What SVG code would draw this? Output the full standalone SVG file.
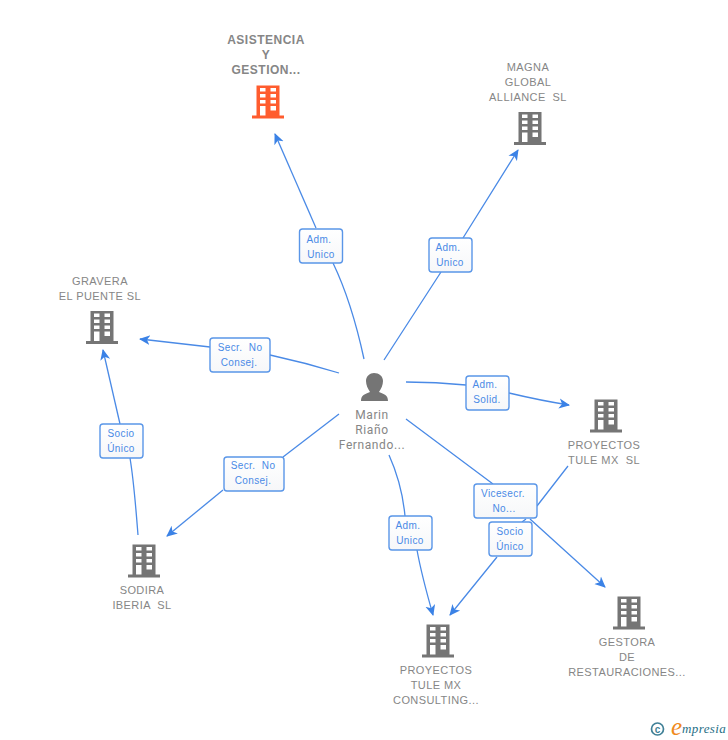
<svg xmlns="http://www.w3.org/2000/svg" width="728" height="740" viewBox="0 0 728 740" xml:space="preserve">
<defs>
<marker id="arrow" markerUnits="userSpaceOnUse" markerWidth="12" markerHeight="12" refX="10" refY="5" viewBox="0 0 12 10" orient="auto"><path d="M0 0L11 5L0 10L3 5Z" fill="#3b82e6"/></marker>
<linearGradient id="lg" x1="0" y1="0" x2="0" y2="1"><stop offset="0" stop-color="#ffffff"/><stop offset="1" stop-color="#f6f7f9"/></linearGradient>
<g id="bld">
<path d="M-11.500 -16.500H11.500V13.500H16V16.500H-16V13.500H-11.500ZM-8 -14V-10.500H-2.500V-14ZM2.500 -14V-10.500H8V-14ZM-8 -8V-4.500H-2.500V-8ZM2.500 -8V-4.500H8V-8ZM-8 -2V1.500H-2.500V-2ZM2.500 -2V1.500H8V-2ZM-8 4V13.500H-2.500V4ZM2.500 4V8.500H8V4Z" fill-rule="evenodd"/>
</g>
</defs>
<style>
.c{fill:none;stroke:#4a8ae6;stroke-width:1.3}
.a{marker-end:url(#arrow)}
text{white-space:pre}
.n{font:11px "Liberation Sans",Arial,sans-serif;fill:#868686;text-anchor:middle;letter-spacing:.42px}
.t{font-size:12px;font-weight:bold;letter-spacing:.5px}
.p{font:12px Roboto,"Liberation Sans",sans-serif;fill:#868686;text-anchor:middle;letter-spacing:.6px}
.l{font:10px "Liberation Sans",Arial,sans-serif;fill:#4a8ae6;text-anchor:middle;letter-spacing:.4px}
.b{fill:url(#lg);stroke:#5a96e8;stroke-width:1.4}
.g{fill:#757575}
</style>
<g id="connectors">
<path class="c" d="M364 359C356 322 346 290 333 263"/>
<path class="c a" d="M316 228L275 134"/>
<path class="c a" d="M384 360L441 272M463 238L518 150"/>
<path class="c" d="M339 373C316 366 293 360 270 355"/>
<path class="c a" d="M210 347L140 339"/>
<path class="c" d="M339 414L283 457"/>
<path class="c a" d="M223 490L167 536"/>
<path class="c" d="M138 535C136 510 134 482 130 458"/>
<path class="c a" d="M120 424L103 350"/>
<path class="c" d="M406 382C426 382 446 383 466 385"/>
<path class="c a" d="M509 393C530 398 550 402 569 405"/>
<path class="c" d="M389 455C398 475 403 495 405 516"/>
<path class="c a" d="M417 550C421 572 427 594 433 615"/>
<path class="c a" d="M406 419L493 484M530 519L605 587"/>
<path class="c a" d="M568 466L537 506M526 519L522 522M497 557L450 615"/>
</g>
<g id="labels">
<g id="l1"><rect class="b" x="299.500" y="229" width="43" height="34" rx="3"/><text class="l" x="319" y="243">Adm.</text><text class="l" x="321" y="258">Unico</text></g>
<g id="l2"><rect class="b" x="429" y="238" width="43" height="34" rx="3"/><text class="l" x="448" y="251">Adm.</text><text class="l" x="450" y="266">Unico</text></g>
<g id="l3"><rect class="b" x="210" y="338" width="60" height="34" rx="3"/><text class="l" x="240" y="351">Secr.  No</text><text class="l" x="239" y="366">Consej.</text></g>
<g id="l4"><rect class="b" x="224" y="457" width="60" height="34" rx="3"/><text class="l" x="253" y="469">Secr.  No</text><text class="l" x="253" y="484">Consej.</text></g>
<g id="l5"><rect class="b" x="100" y="424" width="43" height="34" rx="3"/><text class="l" x="121" y="437">Socio</text><text class="l" x="121" y="452">Único</text></g>
<g id="l6"><rect class="b" x="466" y="376" width="43" height="34" rx="3"/><text class="l" x="485" y="388">Adm.</text><text class="l" x="487" y="403">Solid.</text></g>
<g id="l7"><rect class="b" x="389" y="516" width="43" height="34" rx="3"/><text class="l" x="408" y="529">Adm.</text><text class="l" x="410" y="544">Unico</text></g>
<g id="l8"><rect class="b" x="474" y="484" width="63" height="34" rx="3"/><text class="l" x="503" y="497">Vicesecr.</text><text class="l" x="504" y="512">No...</text></g>
<g id="l9"><rect class="b" x="489" y="522" width="43" height="34" rx="3"/><text class="l" x="510" y="535">Socio</text><text class="l" x="510" y="550">Único</text></g>
</g>
<g id="asistencia"><use href="#bld" x="268" y="102" fill="#ff5c2e"/><text class="n t" x="266" y="44">ASISTENCIA</text><text class="n t" x="266" y="59">Y</text><text class="n t" x="266" y="74">GESTION...</text></g>
<g id="magna"><use class="g" href="#bld" x="530" y="128.500"/><text class="n" x="528" y="71">MAGNA</text><text class="n" x="528" y="86">GLOBAL</text><text class="n" x="528" y="101">ALLIANCE  SL</text></g>
<g id="gravera"><use class="g" href="#bld" x="102" y="327.500"/><text class="n" x="100" y="285">GRAVERA</text><text class="n" x="100" y="300">EL PUENTE SL</text></g>
<g id="marin"><path class="g" d="M361 401C361 395 365 394 370 392C368 389 366 385 366 381C366 376 370 373 374 373C379 373 383 376 383 381C383 385 381 389 379 392C384 394 388 395 388 401Z"/><text class="p" x="372" y="419">Marin</text><text class="p" x="372" y="434">Riaño</text><text class="p" x="372" y="449">Fernando...</text></g>
<g id="proyectos"><use class="g" href="#bld" x="606" y="416"/><text class="n" x="604" y="449">PROYECTOS</text><text class="n" x="604" y="464">TULE MX  SL</text></g>
<g id="sodira"><use class="g" href="#bld" x="144" y="561"/><text class="n" x="142" y="594">SODIRA</text><text class="n" x="142" y="609">IBERIA  SL</text></g>
<g id="consulting"><use class="g" href="#bld" x="438" y="641"/><text class="n" x="436" y="674">PROYECTOS</text><text class="n" x="436" y="689">TULE MX</text><text class="n" x="436" y="704">CONSULTING...</text></g>
<g id="gestora"><use class="g" href="#bld" x="629" y="613"/><text class="n" x="627" y="646">GESTORA</text><text class="n" x="627" y="661">DE</text><text class="n" x="627" y="676">RESTAURACIONES...</text></g>
<g id="brand"><circle cx="657.500" cy="729" r="6" fill="none" stroke="#3f7f96" stroke-width="1.7"/><text x="657.500" y="732.500" font-family="Liberation Sans,sans-serif" font-size="10" font-weight="bold" fill="#3f7f96" text-anchor="middle">c</text><text x="671" y="735" font-family="Liberation Serif,serif" font-style="italic" font-size="25" fill="#f08a1d">e</text><text x="682" y="733" font-family="Liberation Serif,serif" font-style="italic" font-size="13" fill="#1f6f86" letter-spacing=".4">mpresia</text></g>
</svg>
